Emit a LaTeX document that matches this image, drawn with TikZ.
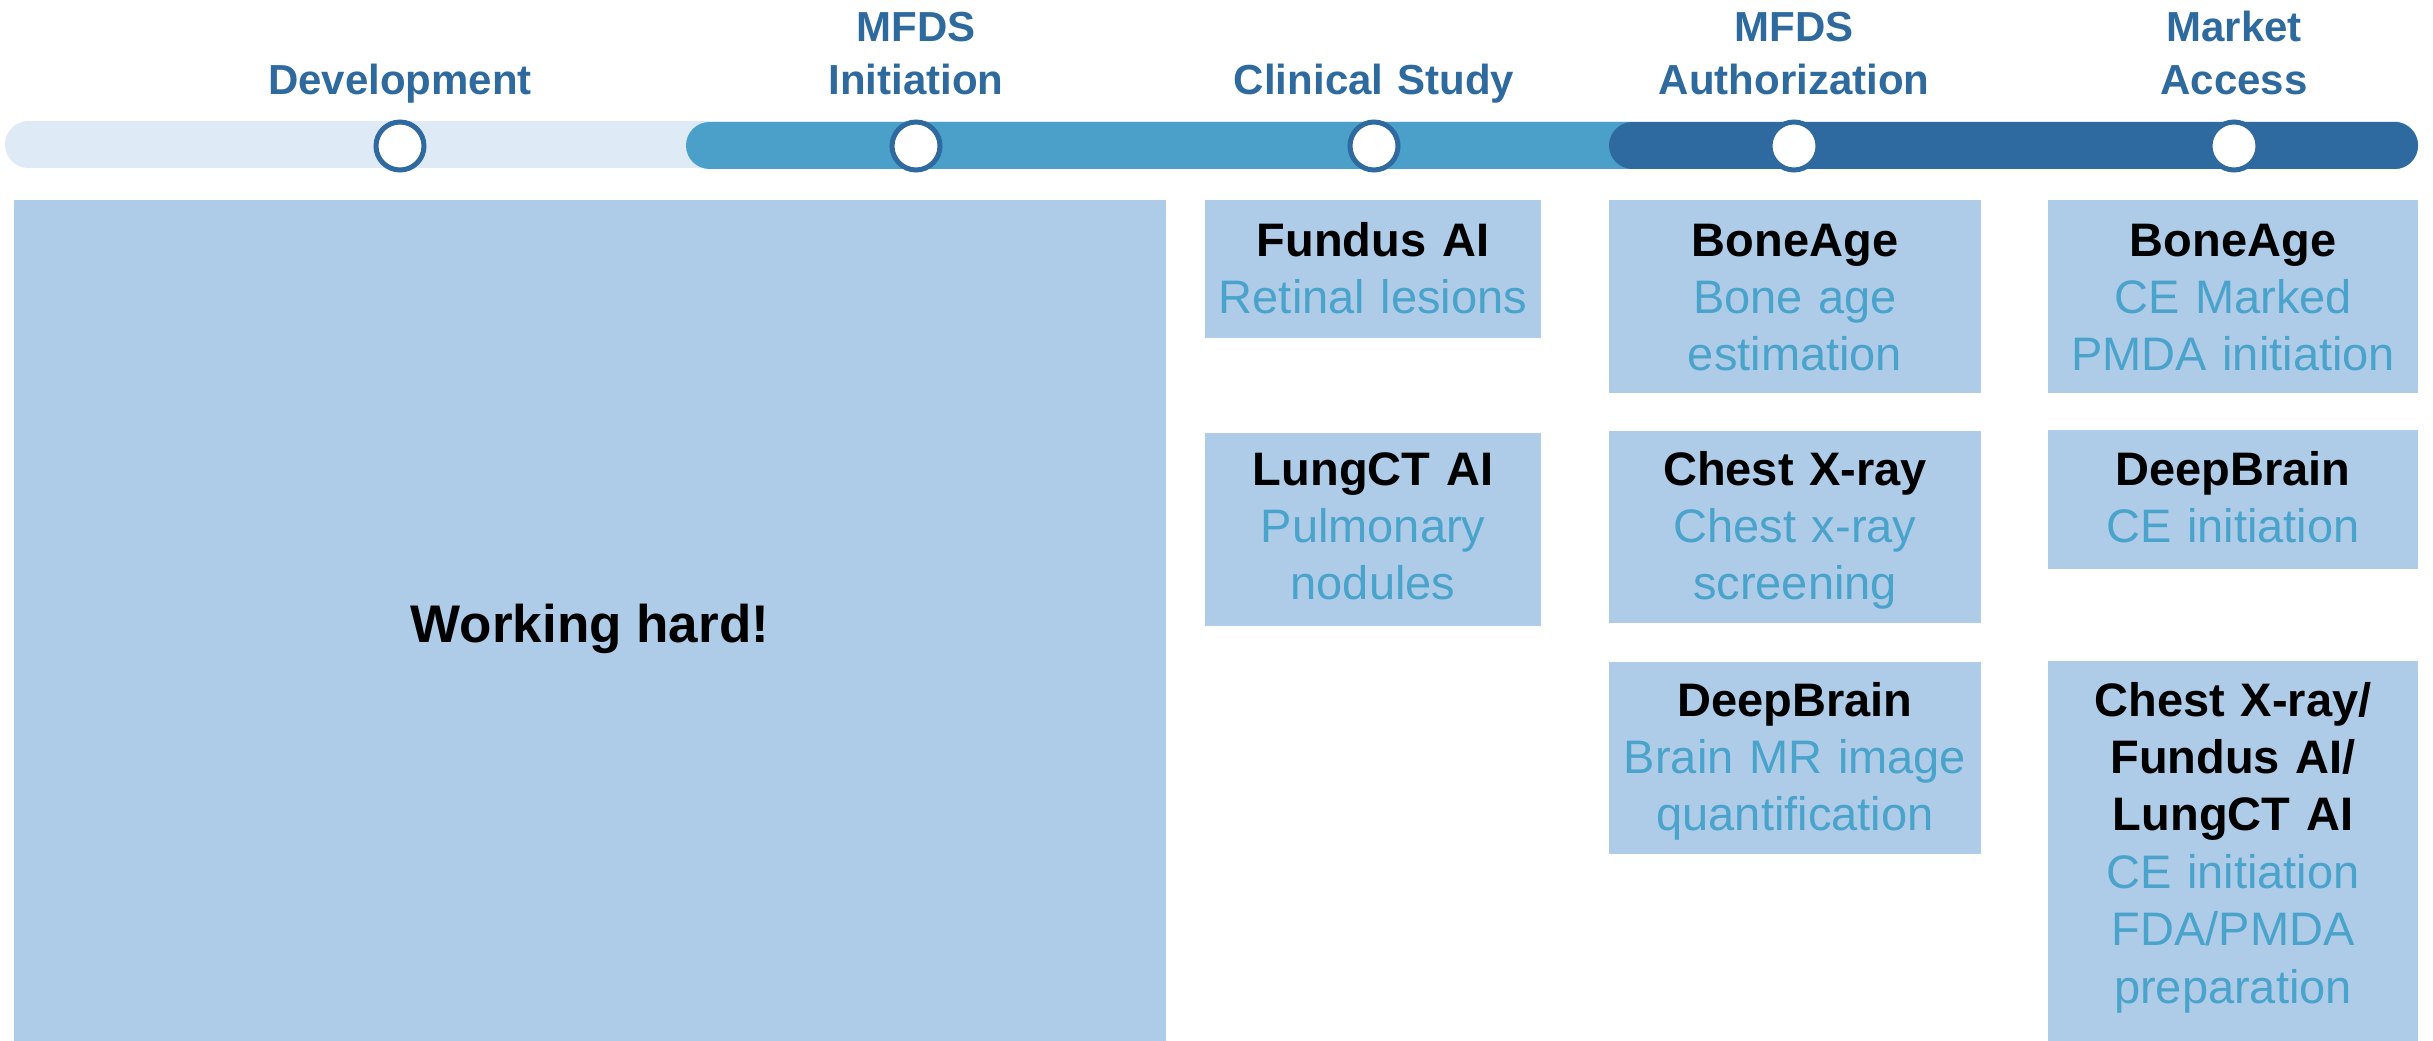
\documentclass[tikz,border=0pt]{standalone}
\usepackage{fontspec}
\setmainfont{Liberation Sans}
\definecolor{barlight}{HTML}{DEEAF6}
\definecolor{barmid}{HTML}{4AA0C9}
\definecolor{bardark}{HTML}{2E69A0}
\definecolor{cellfill}{HTML}{AECBE8}
\definecolor{subtext}{HTML}{4AA3CB}
\definecolor{headtext}{HTML}{2E6A9E}
\newcommand{\subline}[1]{{\color{subtext}#1}}
\begin{document}
\begin{tikzpicture}[x=1pt,y=-1pt,
  bar/.style={line width=47pt, line cap=round},
  milestone/.style={circle, draw=bardark, line width=5pt, fill=white,
    minimum size=48pt, inner sep=0pt},
  phase/.style={font=\fontsize{42}{52}\selectfont\bfseries, text=headtext,
    align=center, text width=500pt, anchor=base, inner sep=0pt},
  cellbox/.style={fill=cellfill, draw=none, inner sep=0pt, anchor=north west},
  celltext/.style={font=\fontsize{47}{57.4}\selectfont, align=center,
    text width=420pt, anchor=base, inner sep=0pt},
]
\useasboundingbox (0,0) rectangle (2433,1041);

% timeline bar in three shades
\draw[bar, barlight] (28.5,144.5) -- (2394.5,144.5);
\draw[bar, barmid]   (709.5,145.5) -- (2394.5,145.5);
\draw[bar, bardark]  (1632.5,145.5) -- (2394.5,145.5);

% milestones
\node[milestone] (m-dev)  at (400,146)  {};
\node[milestone] (m-init) at (916,146)  {};
\node[milestone] (m-clin) at (1374,146) {};
\node[milestone] (m-auth) at (1794,146) {};
\node[milestone] (m-mkt)  at (2234,146) {};

% phase headings
\node[phase] (h-dev)  at (400,94)  {Development};
\node[phase] (h-init) at (916,42)  {MFDS\\Initiation};
\node[phase] (h-clin) at (1374,94) {Clinical Study};
\node[phase] (h-auth) at (1794,42) {MFDS\\Authorization};
\node[phase] (h-mkt)  at (2234,42) {Market\\Access};

% development column
\node[cellbox, minimum width=1152pt, minimum height=841pt] (dev) at (14,200) {};
\node[font=\fontsize{53}{64}\selectfont\bfseries, anchor=base, inner sep=0pt]
  (dev-t) at (590,642) {Working hard!};

% clinical study column
\node[cellbox, minimum width=336pt, minimum height=138pt] (fundus) at (1205,200) {};
\node[celltext] (fundus-t) at (1373,256) {\textbf{Fundus AI}\\\subline{Retinal lesions}};
\node[cellbox, minimum width=336pt, minimum height=193pt] (lungct) at (1205,433) {};
\node[celltext] (lungct-t) at (1373,485) {\textbf{LungCT AI}\\\subline{Pulmonary}\\\subline{nodules}};

% authorization column
\node[cellbox, minimum width=372pt, minimum height=193pt] (bone) at (1609,200) {};
\node[celltext] (bone-t) at (1795,256) {\textbf{BoneAge}\\\subline{Bone age}\\\subline{estimation}};
\node[cellbox, minimum width=372pt, minimum height=192pt] (chest) at (1609,431) {};
\node[celltext] (chest-t) at (1795,485) {\textbf{Chest X-ray}\\\subline{Chest x-ray}\\\subline{screening}};
\node[cellbox, minimum width=372pt, minimum height=192pt] (brain) at (1609,662) {};
\node[celltext] (brain-t) at (1795,716) {\textbf{DeepBrain}\\\subline{Brain MR image}\\\subline{quantification}};

% market access column
\node[cellbox, minimum width=370pt, minimum height=193pt] (bone2) at (2048,200) {};
\node[celltext] (bone2-t) at (2233,256) {\textbf{BoneAge}\\\subline{CE Marked}\\\subline{PMDA initiation}};
\node[cellbox, minimum width=370pt, minimum height=139pt] (brain2) at (2048,430) {};
\node[celltext] (brain2-t) at (2233,485) {\textbf{DeepBrain}\\\subline{CE initiation}};
\node[cellbox, minimum width=370pt, minimum height=380pt] (combo) at (2048,661) {};
\node[celltext] (combo-t) at (2233,716) {\textbf{Chest X-ray/}\\\textbf{Fundus AI/}\\\textbf{LungCT AI}\\\subline{CE initiation}\\\subline{FDA/PMDA}\\\subline{preparation}};
\end{tikzpicture}
\end{document}
